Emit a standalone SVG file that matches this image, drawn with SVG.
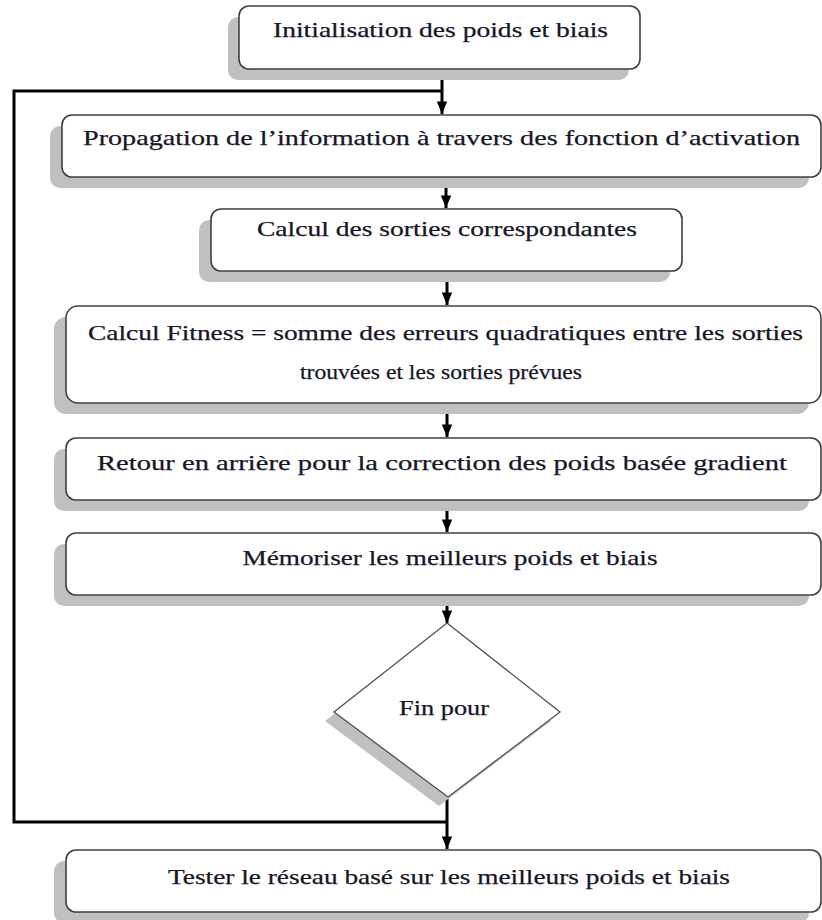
<svg xmlns="http://www.w3.org/2000/svg" width="822" height="920" viewBox="0 0 822 920">
<defs>
<style>
.box{fill:#ffffff;stroke:#404040;stroke-width:1.6}
.shadow{fill:#c0c0c0;stroke:none}
.t{font-family:"Liberation Serif","DejaVu Serif",serif;font-size:21px;fill:#161628;stroke:#161628;stroke-width:0.25;text-anchor:middle}
.ln{stroke:#000;stroke-width:3;fill:none}
</style>
<marker id="ah" viewBox="0 0 12 10" refX="12" refY="5" markerWidth="4.2" markerHeight="3.5" orient="auto" markerUnits="strokeWidth">
<path d="M0,0 L12,5 L0,10 z" fill="#000"/>
</marker>
</defs>
<rect width="822" height="920" fill="#fff"/>

<g id="connectors">
<line class="ln" x1="442" y1="69" x2="442" y2="114" marker-end="url(#ah)"/>
<polyline class="ln" points="442,91 14,91 14,822 447,822"/>
<line class="ln" x1="446" y1="177" x2="446" y2="208" marker-end="url(#ah)"/>
<line class="ln" x1="447" y1="271" x2="447" y2="305" marker-end="url(#ah)"/>
<line class="ln" x1="447" y1="403" x2="447" y2="437" marker-end="url(#ah)"/>
<line class="ln" x1="447" y1="500" x2="447" y2="532" marker-end="url(#ah)"/>
<line class="ln" x1="447" y1="595" x2="447" y2="623" marker-end="url(#ah)"/>
<line class="ln" x1="447" y1="797" x2="447" y2="849" marker-end="url(#ah)"/>
</g>

<g id="n1">
<rect class="shadow" x="228" y="17" width="401" height="63" rx="10"/>
<rect class="box" x="239" y="6" width="401" height="63" rx="10"/>
<text class="t" x="440.5" y="37" textLength="335" lengthAdjust="spacingAndGlyphs">Initialisation des poids et biais</text>
</g>

<g id="n2">
<rect class="shadow" x="50" y="126" width="759" height="62" rx="10"/>
<rect class="box" x="62" y="115" width="759" height="62" rx="10"/>
<text class="t" x="441.5" y="145" textLength="717" lengthAdjust="spacingAndGlyphs">Propagation de l’information à travers des fonction d’activation</text>
</g>

<g id="n3">
<rect class="shadow" x="199" y="220" width="471" height="62" rx="10"/>
<rect class="box" x="211" y="209" width="471" height="62" rx="10"/>
<text class="t" x="447" y="236" textLength="380" lengthAdjust="spacingAndGlyphs">Calcul des sorties correspondantes</text>
</g>

<g id="n4">
<rect class="shadow" x="54" y="317" width="755" height="97" rx="12"/>
<rect class="box" x="66" y="306" width="755" height="97" rx="12"/>
<text class="t" x="445.5" y="340" textLength="715" lengthAdjust="spacingAndGlyphs">Calcul Fitness = somme des erreurs quadratiques entre les sorties</text>
<text class="t" x="441" y="379" textLength="282" lengthAdjust="spacingAndGlyphs">trouvées et les sorties prévues</text>
</g>

<g id="n5">
<rect class="shadow" x="54" y="449" width="755" height="62" rx="10"/>
<rect class="box" x="66" y="438" width="755" height="62" rx="10"/>
<text class="t" x="442" y="470" textLength="690" lengthAdjust="spacingAndGlyphs">Retour en arrière pour la correction des poids basée gradient</text>
</g>

<g id="n6">
<rect class="shadow" x="54" y="544" width="755" height="62" rx="10"/>
<rect class="box" x="66" y="533" width="755" height="62" rx="10"/>
<text class="t" x="450" y="565" textLength="415" lengthAdjust="spacingAndGlyphs">Mémoriser les meilleurs poids et biais</text>
</g>

<g id="n7">
<polygon class="shadow" points="438,632 551,721 439,806 325,721"/>
<polygon fill="#fff" stroke="#505050" stroke-width="1.3" points="447,623 560,712 448,797 334,712"/>
<text class="t" x="444" y="715" textLength="90" lengthAdjust="spacingAndGlyphs">Fin pour</text>
</g>

<g id="n8">
<rect class="shadow" x="54" y="861" width="755" height="62" rx="10"/>
<rect class="box" x="66" y="850" width="755" height="62" rx="10"/>
<text class="t" x="449" y="884" textLength="562" lengthAdjust="spacingAndGlyphs">Tester le réseau basé sur les meilleurs poids et biais</text>
</g>
</svg>
